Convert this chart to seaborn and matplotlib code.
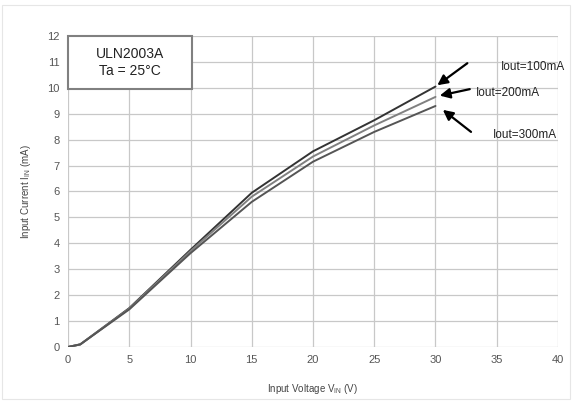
import matplotlib
matplotlib.use("Agg")
import matplotlib.pyplot as plt
import seaborn as sns
import pandas as pd
from matplotlib.patches import Rectangle

vin = [0, 1, 5, 10, 15, 20, 25, 30]
iin_100 = [0.0, 0.1, 1.5, 3.75, 5.95, 7.55, 8.75, 10.05]
iin_200 = [0.0, 0.1, 1.48, 3.7, 5.8, 7.35, 8.55, 9.65]
iin_300 = [0.0, 0.1, 1.45, 3.62, 5.6, 7.15, 8.3, 9.3]
series_names = ["Iout=100mA", "Iout=200mA", "Iout=300mA"]
x_ticks = [0, 5, 10, 15, 20, 25, 30, 35, 40]
y_ticks = list(range(0, 13))

rows = []
for name, vals in zip(series_names, [iin_100, iin_200, iin_300]):
    for v, i in zip(vin, vals):
        rows.append({"Vin": v, "Iin": i, "series": name})
df = pd.DataFrame(rows)

sns.set_theme(style="white")
plt.rcParams['font.family'] = ['Liberation Sans', 'DejaVu Sans']

fig = plt.figure(figsize=(5.72, 4.01), dpi=100)
fig.patches.append(Rectangle((0.004, 0.004), 0.992, 0.984, transform=fig.transFigure,
                             fill=False, edgecolor="#e6e6e6", lw=0.8))
ax = fig.add_axes([0.1189, 0.1347, 0.8566, 0.7755])

palette = {"Iout=100mA": "#333333", "Iout=200mA": "#808080", "Iout=300mA": "#555555"}
sns.lineplot(data=df, x="Vin", y="Iin", hue="series", palette=palette, ax=ax,
             linewidth=1.4, legend=False)

ax.set_xlim(0, 40)
ax.set_ylim(0, 12)
ax.set_xticks(x_ticks)
ax.set_yticks(y_ticks)
ax.grid(True, color="#c8c8c8", linewidth=0.9)
ax.set_axisbelow(True)
for s in ax.spines.values():
    s.set_visible(False)
ax.tick_params(axis="both", length=0, labelsize=8, labelcolor="#555555", pad=6)
ax.set_xlabel("Input Voltage V$_{\\mathregular{IN}}$ (V)", fontsize=7, color="#444444", labelpad=12)
ax.set_ylabel("Input Current I$_{\\mathregular{IN}}$ (mA)", fontsize=7, color="#444444", labelpad=10)

# info box
ax.add_patch(Rectangle((0, 9.97), 10.1, 2.03, fill=True, facecolor="white",
                       edgecolor="#808080", lw=1.5, zorder=5, clip_on=False))
ax.text(5.05, 10.98, "ULN2003A\nTa = 25°C", ha="center", va="center", fontsize=10,
        color="#222222", zorder=6, linespacing=1.2)

# annotations
ann = [
    ("Iout=100mA", (30.15, 10.1), (32.6, 10.95), (35.3, 10.8)),
    ("Iout=200mA", (30.35, 9.7), (32.8, 9.95), (33.3, 9.8)),
    ("Iout=300mA", (30.6, 9.15), (32.9, 8.3), (34.7, 8.18)),
]
for label, tip, tail, tpos in ann:
    ax.annotate("", xy=tip, xytext=tail,
                arrowprops=dict(arrowstyle="-|>", color="black", lw=1.6,
                                mutation_scale=15, shrinkA=0, shrinkB=0),
                annotation_clip=False)
    ax.text(tpos[0], tpos[1], label, fontsize=8.5, color="#222222", ha="left",
            va="center", clip_on=False, zorder=6)

fig.savefig("out.png", dpi=100)
